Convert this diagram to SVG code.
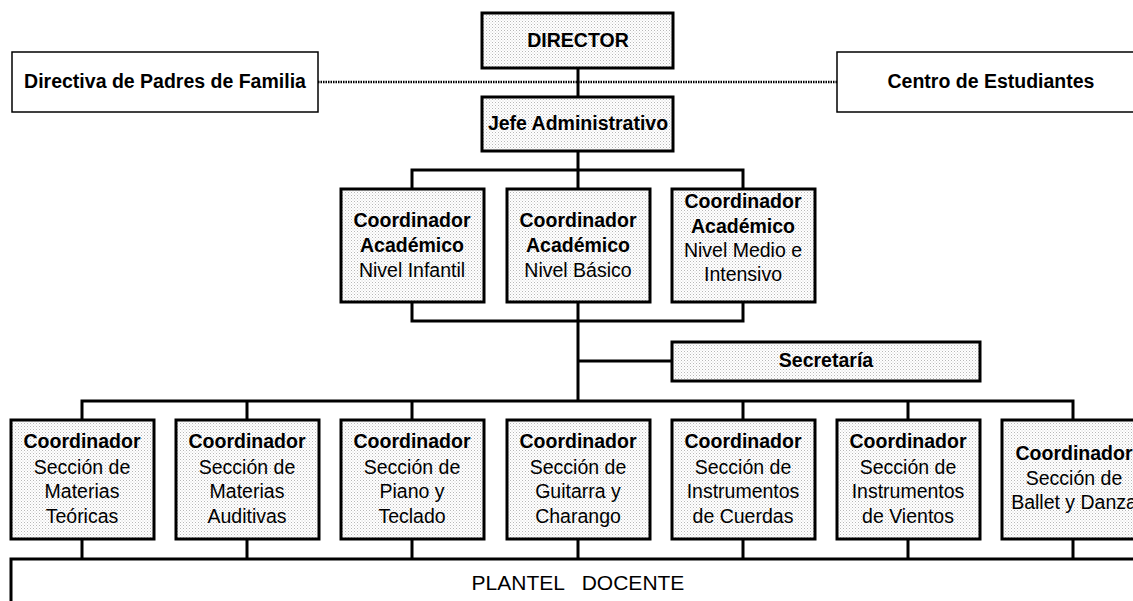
<svg xmlns="http://www.w3.org/2000/svg" width="1133" height="601" viewBox="0 0 1133 601">
<defs>
<pattern id="dots" width="3" height="3" patternUnits="userSpaceOnUse">
<rect width="3" height="3" fill="#ffffff"/>
<rect x="0" y="0" width="1" height="1" fill="#b8b8b8"/>
<rect x="1.5" y="1.5" width="1" height="1" fill="#d0d0d0"/>
</pattern>
<style>
.box{fill:url(#dots);stroke:#000;stroke-width:3}
.wbox{fill:#fff;stroke:#000;stroke-width:1.5}
.ln{fill:none;stroke:#000;stroke-width:3}
.dot{fill:none;stroke:#000;stroke-width:2.5;stroke-dasharray:1.5 1}
text{font-family:"Liberation Sans",Arial,sans-serif;font-size:19.5px;fill:#000;text-anchor:middle}
.b{font-weight:bold}
</style>
</defs>
<rect width="1133" height="601" fill="#fff"/>
<g id="connectors">
<line class="dot" x1="318" y1="82" x2="837" y2="82"/>
<line class="ln" x1="578" y1="68" x2="578" y2="97"/>
<path class="ln" d="M578,151 V170 M412,189 V170 H743 V189 M578,170 V189"/>
<path class="ln" d="M412,302 V321 H743 V302 M578,302 V401 M578,361 H672"/>
<path class="ln" d="M82,420 V401 H1073 V420 M247,401 V420 M412,401 V420 M743,401 V420 M908,401 V420"/>
<path class="ln" d="M82,539 V559 M247,539 V559 M412,539 V559 M578,539 V559 M743,539 V559 M908,539 V559 M1073,539 V559"/>
</g>
<g id="directiva"><rect class="wbox" x="12" y="52" width="306" height="60"/><text class="b" x="165" y="88">Directiva de Padres de Familia</text></g>
<g id="centro"><rect class="wbox" x="837" y="52" width="320" height="60"/><text class="b" x="991" y="88">Centro de Estudiantes</text></g>
<g id="director"><rect class="box" x="482" y="13" width="191" height="55"/><text class="b" x="578" y="47">DIRECTOR</text></g>
<g id="jefe"><rect class="box" x="482" y="97" width="191" height="54"/><text class="b" x="578" y="130">Jefe Administrativo</text></g>
<g id="coord-infantil"><rect class="box" x="341" y="189" width="143" height="113"/>
<text class="b" x="412" y="227">Coordinador</text><text class="b" x="412" y="252">Académico</text><text x="412" y="277">Nivel Infantil</text></g>
<g id="coord-basico"><rect class="box" x="507" y="189" width="143" height="113"/>
<text class="b" x="578" y="227">Coordinador</text><text class="b" x="578" y="252">Académico</text><text x="578" y="277">Nivel Básico</text></g>
<g id="coord-medio"><rect class="box" x="672" y="189" width="143" height="113"/>
<text class="b" x="743" y="208">Coordinador</text><text class="b" x="743" y="233">Académico</text><text x="743" y="257">Nivel Medio e</text><text x="743" y="281">Intensivo</text></g>
<g id="secretaria"><rect class="box" x="672" y="342" width="308" height="39"/><text class="b" x="826" y="367">Secretaría</text></g>
<g id="sec-teoricas"><rect class="box" x="11" y="420" width="143" height="119"/>
<text class="b" x="82" y="448">Coordinador</text><text x="82" y="474">Sección de</text><text x="82" y="498">Materias</text><text x="82" y="523">Teóricas</text></g>
<g id="sec-auditivas"><rect class="box" x="176" y="420" width="143" height="119"/>
<text class="b" x="247" y="448">Coordinador</text><text x="247" y="474">Sección de</text><text x="247" y="498">Materias</text><text x="247" y="523">Auditivas</text></g>
<g id="sec-piano"><rect class="box" x="341" y="420" width="143" height="119"/>
<text class="b" x="412" y="448">Coordinador</text><text x="412" y="474">Sección de</text><text x="412" y="498">Piano y</text><text x="412" y="523">Teclado</text></g>
<g id="sec-guitarra"><rect class="box" x="507" y="420" width="143" height="119"/>
<text class="b" x="578" y="448">Coordinador</text><text x="578" y="474">Sección de</text><text x="578" y="498">Guitarra y</text><text x="578" y="523">Charango</text></g>
<g id="sec-cuerdas"><rect class="box" x="672" y="420" width="143" height="119"/>
<text class="b" x="743" y="448">Coordinador</text><text x="743" y="474">Sección de</text><text x="743" y="498">Instrumentos</text><text x="743" y="523">de Cuerdas</text></g>
<g id="sec-vientos"><rect class="box" x="837" y="420" width="143" height="119"/>
<text class="b" x="908" y="448">Coordinador</text><text x="908" y="474">Sección de</text><text x="908" y="498">Instrumentos</text><text x="908" y="523">de Vientos</text></g>
<g id="sec-ballet"><rect class="box" x="1002" y="420" width="143" height="119"/>
<text class="b" x="1074" y="460">Coordinador</text><text x="1074" y="485">Sección de</text><text x="1074" y="509">Ballet y Danza</text></g>
<g id="plantel"><path class="ln" d="M11,605 V559 H1140"/>
<text x="578" y="590" style="font-size:21px;white-space:pre">PLANTEL   DOCENTE</text></g>
</svg>
